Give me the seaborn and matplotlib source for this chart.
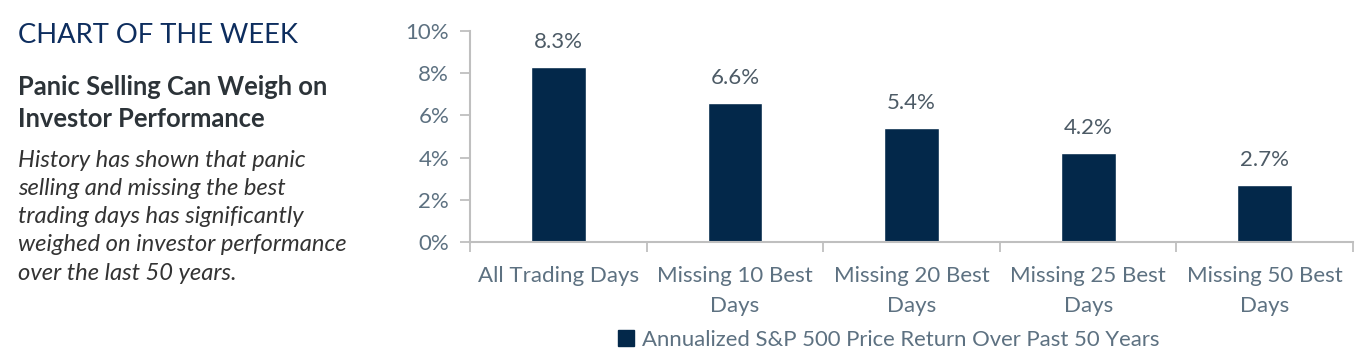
import matplotlib
matplotlib.use("Agg")
import matplotlib.pyplot as plt
import seaborn as sns
import pandas as pd
from matplotlib.patches import Patch
from matplotlib.ticker import FixedLocator, FuncFormatter

categories = ["All Trading Days", "Missing 10 Best\nDays", "Missing 20 Best\nDays",
              "Missing 25 Best\nDays", "Missing 50 Best\nDays"]
values = [8.3, 6.6, 5.4, 4.2, 2.7]
series_name = "Annualized S&P 500 Price Return Over Past 50 Years"
yticks = [0, 2, 4, 6, 8, 10]

sns.set_theme(style="white")
plt.rcParams["font.family"] = ["Lato", "DejaVu Sans"]

NAVY = "#03284a"
TICK = "#5d7181"
LABEL = "#4d5b66"
SPINE = "#bfbfbf"

fig = plt.figure(figsize=(13.72, 3.55), dpi=100)
ax = fig.add_axes([0.3426, 0.3183, 0.6436, 0.5944])

df = pd.DataFrame({"cat": categories, "val": values})
sns.barplot(data=df, x="cat", y="val", color=NAVY, width=0.31, saturation=1, ax=ax)

ax.set_xlim(-0.5, 4.5)
ax.set_ylim(0, 10)
ax.set_yticks(yticks)
ax.yaxis.set_major_formatter(FuncFormatter(lambda v, p: f"{v:.0f}%"))
ax.set_xlabel("")
ax.set_ylabel("")

for i, v in enumerate(values):
    ax.annotate(f"{v:.1f}%", (i, v), xytext=(0, 18), textcoords="offset points",
                ha="center", va="center", fontsize=16, color=LABEL)

ax.xaxis.set_minor_locator(FixedLocator([-0.5, 0.5, 1.5, 2.5, 3.5, 4.5]))
ax.tick_params(axis="x", which="major", length=0, labelsize=16, labelcolor=TICK, pad=17)
ax.tick_params(axis="x", which="minor", length=7, width=1.3, color=SPINE, direction="out", bottom=True)
ax.tick_params(axis="y", which="major", length=7, width=1.3, color=SPINE, direction="out",
               left=True, labelsize=16, labelcolor=TICK, pad=8)
for lbl in ax.get_xticklabels():
    lbl.set_linespacing(1.65)

for s in ["top", "right"]:
    ax.spines[s].set_visible(False)
for s in ["left", "bottom"]:
    ax.spines[s].set_color(SPINE)
    ax.spines[s].set_linewidth(1.5)

handle = Patch(facecolor=NAVY, edgecolor=NAVY)
fig.legend([handle], [series_name], loc="center", bbox_to_anchor=(0.648, 0.042),
           frameon=False, fontsize=15.9, labelcolor=TICK, handlelength=0.7,
           handleheight=0.75, handletextpad=0.4)

fig.text(0.0131, 0.9, "CHART OF THE WEEK", fontsize=19.7, color="#0d2d5e",
         ha="left", va="center")
fig.text(0.0131, 0.755, "Panic Selling Can Weigh on", fontsize=18.4, fontweight="bold",
         color="#2c3338", ha="left", va="center")
fig.text(0.0131, 0.665, "Investor Performance", fontsize=18.4, fontweight="bold",
         color="#2c3338", ha="left", va="center")
italic_lines = ["History has shown that panic", "selling and missing the best",
                "trading days has significantly", "weighed on investor performance",
                "over the last 50 years."]
for k, line in enumerate(italic_lines):
    fig.text(0.0131, 1 - (160 + 28.3 * k) / 355, line, fontsize=17.1, style="italic",
             color="#333333", ha="left", va="center")

fig.savefig("out.png", dpi=100)
